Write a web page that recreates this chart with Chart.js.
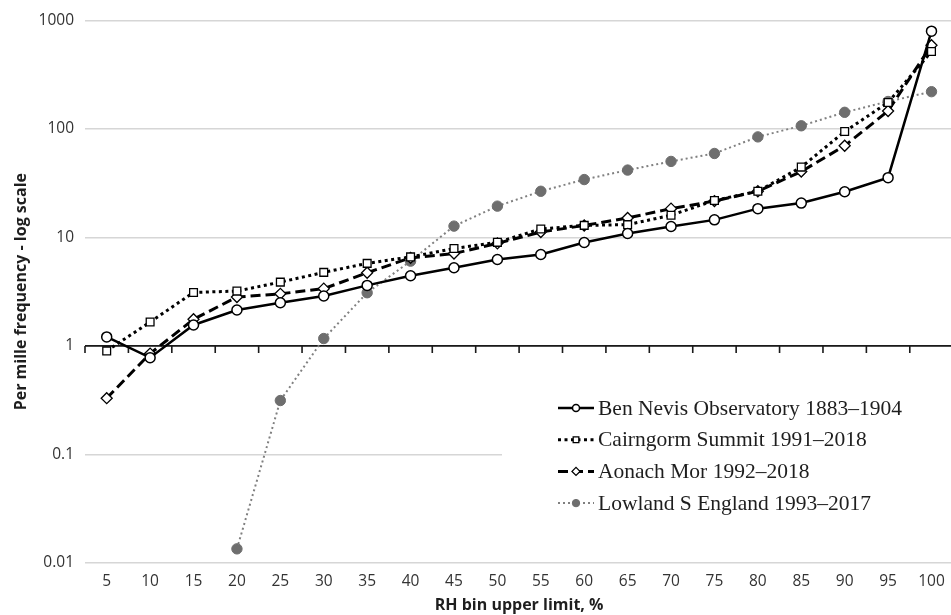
<!DOCTYPE html>
<html>
<head>
<meta charset="utf-8">
<script src="https://cdn.jsdelivr.net/npm/chart.js@4.4.1/dist/chart.umd.min.js"></script>
<style>
  html, body { margin: 0; padding: 0; overflow: hidden; background: #fff; }
  #wrap { width: 960px; height: 615px; }
</style>
</head>
<body>
<div id="wrap"><canvas id="rhChart" width="960" height="615"></canvas></div>
<script>
// RH bins (upper limit, %)
const rhBins = ["5", "10", "15", "20", "25", "30", "35", "40", "45", "50",
  "55", "60", "65", "70", "75", "80", "85", "90", "95", "100"];

// per mille frequency in each bin
const benNevis = [1.21, 0.78, 1.56, 2.14, 2.5, 2.88, 3.61, 4.43, 5.25, 6.26,
  6.96, 8.98, 10.85, 12.6, 14.5, 18.4, 20.7, 26.3, 35.5, 794];
const cairngorm = [0.9, 1.66, 3.11, 3.2, 3.87, 4.76, 5.76, 6.61, 7.9, 9.0,
  11.96, 12.9, 13.1, 16.0, 21.9, 26.6, 44.4, 94.4, 175, 515];
const aonachMor = [0.33, 0.85, 1.76, 2.82, 3.02, 3.37, 4.72, 6.48, 7.1, 8.81,
  11.2, 12.87, 15.1, 18.4, 21.6, 26.6, 40.4, 69.8, 146, 590];
const lowlandSE = [null, null, null, 0.0135, 0.314, 1.17, 3.09, 6.04, 12.7, 19.4,
  26.6, 34.1, 41.7, 50.1, 59.3, 84.3, 106.7, 142, 178.6, 220];

const seriesNames = [
  "Ben Nevis Observatory 1883\u20131904",
  "Cairngorm Summit 1991\u20132018",
  "Aonach Mor 1992\u20132018",
  "Lowland S England 1993\u20132017"
];

const yTicks = [0.01, 0.1, 1, 10, 100, 1000];

const tickFont = { family: "'Open Sans', sans-serif", size: 15.5 };
const titleFont = { family: "'Open Sans', sans-serif", size: 16, weight: "bold" };

// horizontal axis crosses at 1, with tick marks between categories
const unityAxis = {
  id: "unityAxis",
  beforeDatasetsDraw(chart) {
    const { ctx, chartArea, scales } = chart;
    const yp = scales.y.getPixelForValue(1);
    const n = chart.data.labels.length;
    const step = (chartArea.right - chartArea.left) / n;
    ctx.save();
    ctx.strokeStyle = "#1a1a1a";
    ctx.lineWidth = 1.6;
    ctx.beginPath();
    ctx.moveTo(chartArea.left, yp);
    ctx.lineTo(chartArea.right, yp);
    for (let i = 0; i <= n; i++) {
      const xb = scales.x.getPixelForValue(i) - step / 2;
      ctx.moveTo(xb, yp);
      ctx.lineTo(xb, yp + 7);
    }
    ctx.stroke();
    ctx.restore();
  }
};

// legend drawn inside the plot, on a white box
const legendBox = {
  id: "legendBox",
  afterDatasetsDraw(chart) {
    const ctx = chart.ctx;
    ctx.save();
    ctx.fillStyle = "#fff";
    ctx.fillRect(502, 374, 460, 166);
    chart.data.datasets.forEach((ds, i) => {
      const y = 408 + i * 31.7;
      ctx.strokeStyle = ds.borderColor;
      ctx.lineWidth = ds.borderWidth;
      ctx.setLineDash(ds.borderDash || []);
      ctx.beginPath();
      ctx.moveTo(558, y);
      ctx.lineTo(594, y);
      ctx.stroke();
      ctx.setLineDash([]);
      ctx.fillStyle = ds.pointBackgroundColor;
      ctx.strokeStyle = ds.pointBorderColor;
      ctx.lineWidth = ds.pointBorderWidth;
      Chart.helpers.drawPoint(ctx, {
        pointStyle: ds.pointStyle,
        radius: ds.pointRadius - 1.5,
        borderWidth: ds.pointBorderWidth,
        rotation: 0
      }, 576, y);
      ctx.fillStyle = "#1e1e1e";
      ctx.font = "21.5px 'Liberation Serif', 'Times New Roman', serif";
      ctx.textBaseline = "middle";
      ctx.fillText(ds.label, 598, y + 1);
    });
    ctx.restore();
  }
};

const ctx = document.getElementById("rhChart").getContext("2d");
new Chart(ctx, {
  type: "line",
  data: {
    labels: rhBins,
    datasets: [
      {
        label: seriesNames[0],
        data: benNevis,
        borderColor: "#000",
        borderWidth: 2.5,
        pointStyle: "circle",
        pointRadius: 5,
        pointBackgroundColor: "#fff",
        pointBorderColor: "#000",
        pointBorderWidth: 1.5
      },
      {
        label: seriesNames[1],
        data: cairngorm,
        borderColor: "#000",
        borderWidth: 3,
        borderDash: [3, 3.5],
        pointStyle: "rect",
        pointRadius: 5.5,
        pointBackgroundColor: "#fff",
        pointBorderColor: "#000",
        pointBorderWidth: 1.3
      },
      {
        label: seriesNames[2],
        data: aonachMor,
        borderColor: "#000",
        borderWidth: 3,
        borderDash: [10, 5],
        pointStyle: "rectRot",
        pointRadius: 5.5,
        pointBackgroundColor: "#fff",
        pointBorderColor: "#000",
        pointBorderWidth: 1.3
      },
      {
        label: seriesNames[3],
        data: lowlandSE,
        borderColor: "#808080",
        borderWidth: 2,
        borderDash: [2, 3],
        pointStyle: "circle",
        pointRadius: 5.2,
        pointBackgroundColor: "#6e6e6e",
        pointBorderColor: "#6e6e6e",
        pointBorderWidth: 1
      }
    ]
  },
  options: {
    responsive: false,
    animation: false,
    layout: { padding: { top: 19, right: 6, left: 0, bottom: 0 } },
    plugins: {
      legend: { display: false },
      tooltip: { enabled: false }
    },
    scales: {
      x: {
        type: "category",
        offset: true,
        grid: { display: false, drawTicks: false },
        border: { display: false },
        ticks: { font: tickFont, color: "#333", padding: 9, maxRotation: 0, autoSkip: false },
        title: {
          display: true,
          text: "RH bin upper limit, %",
          font: titleFont,
          color: "#1e1e1e",
          padding: { top: 3, bottom: 0 }
        },
        afterFit(scale) { scale.height = 52; }
      },
      y: {
        type: "logarithmic",
        min: 0.01,
        max: 1000,
        afterBuildTicks(scale) {
          scale.ticks = yTicks.map(v => ({ value: v }));
        },
        grid: { color: "#d6d6d6", lineWidth: 1.5, drawTicks: false },
        border: { display: false },
        ticks: {
          font: tickFont,
          color: "#333",
          padding: 11,
          callback: v => String(v)
        },
        title: {
          display: true,
          text: "Per mille frequency - log scale",
          font: titleFont,
          color: "#1e1e1e",
          padding: { top: 12, bottom: 0 }
        },
        afterFit(scale) { scale.width = 85; }
      }
    }
  },
  plugins: [unityAxis, legendBox]
});
</script>
</body>
</html>
